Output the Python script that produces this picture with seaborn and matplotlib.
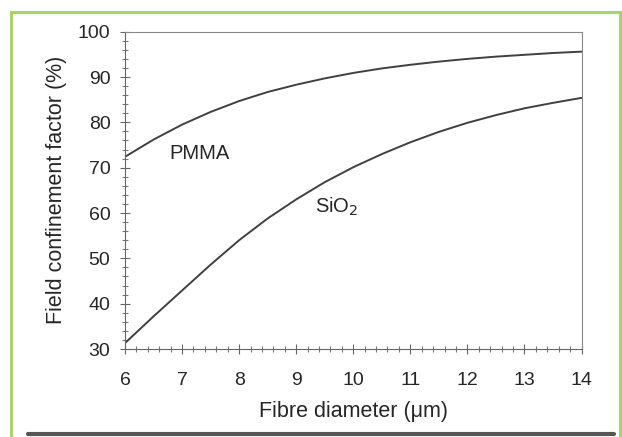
import numpy as np
import pandas as pd
import matplotlib
matplotlib.use("Agg")
import matplotlib.pyplot as plt
import seaborn as sns
from matplotlib.ticker import MultipleLocator
from matplotlib.patches import Rectangle
from matplotlib.lines import Line2D

diameter = [6, 6.5, 7, 7.5, 8, 8.5, 9, 9.5, 10, 10.5, 11, 11.5, 12, 12.5, 13, 13.5, 14]
pmma = [72.4, 76.2, 79.5, 82.3, 84.7, 86.7, 88.3, 89.7, 90.9, 91.9, 92.7, 93.4,
        94.0, 94.5, 94.9, 95.3, 95.6]
sio2 = [31.3, 37.2, 42.9, 48.6, 54.0, 58.8, 63.0, 66.8, 70.1, 73.0, 75.6, 77.9,
        79.9, 81.6, 83.1, 84.3, 85.4]
series_names = ["PMMA", "SiO2"]

df = pd.DataFrame({
    "d": diameter * 2,
    "f": pmma + sio2,
    "s": [series_names[0]] * len(diameter) + [series_names[1]] * len(diameter),
})

sns.set_style("white")
plt.rcParams['font.family'] = ['Liberation Sans', 'DejaVu Sans']

W, H = 622, 437
fig = plt.figure(figsize=(W / 100, H / 100), dpi=100)
L, R, T, B = 125, 581.5, 31.7, 349
ax = fig.add_axes([L / W, 1 - B / H, (R - L) / W, (B - T) / H])

sns.lineplot(data=df, x="d", y="f", hue="s", palette=["#404040", "#404040"],
             ax=ax, legend=False, linewidth=1.4)

ax.set_xlim(6, 14)
ax.set_ylim(30, 100)
ax.xaxis.set_major_locator(MultipleLocator(1))
ax.xaxis.set_minor_locator(MultipleLocator(0.2))
ax.yaxis.set_major_locator(MultipleLocator(10))
ax.yaxis.set_minor_locator(MultipleLocator(2))
ax.tick_params(which="major", direction="inout", length=7, width=0.8, color="#666666",
               labelsize=14, labelcolor="#262626", bottom=True, left=True)
ax.tick_params(axis="x", which="major", pad=13)
ax.tick_params(axis="y", which="major", pad=7)
ax.tick_params(which="minor", direction="inout", length=4, width=0.8, color="#777777",
               bottom=True, left=True)
for sp in ax.spines.values():
    sp.set_color("#888888")
    sp.set_linewidth(0.8)
ax.spines["left"].set_color("#666666")
ax.spines["bottom"].set_color("#666666")

ax.set_xlabel("Fibre diameter (μm)", fontsize=15.5, color="#262626", labelpad=9)
ax.set_ylabel("Field confinement factor (%)", fontsize=15.5, color="#262626", labelpad=8)

ax.text(7.31, 73.2, "PMMA", fontsize=14.5, color="#262626", ha="center", va="center")
ax.text(9.71, 61.4, "SiO$_2$", fontsize=14.5, color="#262626", ha="center", va="center")

# frame decoration
fig.patches.append(Rectangle((11 / W, -0.01), (620 - 11) / W, (H - 12) / H + 0.01,
                             transform=fig.transFigure, fill=False,
                             edgecolor="#a8d46a", linewidth=2.2))
fig.lines.append(Line2D([28 / W, 614 / W], [1 - 434 / H, 1 - 434 / H],
                        transform=fig.transFigure, color="#555555", linewidth=3))

fig.savefig("out.png", dpi=100)
